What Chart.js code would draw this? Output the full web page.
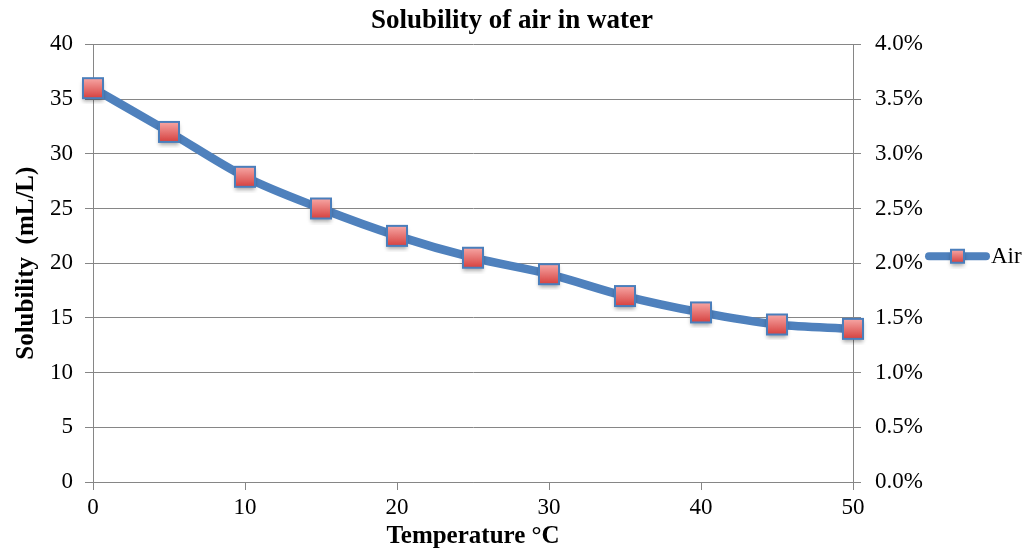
<!DOCTYPE html>
<html>
<head>
<meta charset="utf-8">
<script src="https://cdn.jsdelivr.net/npm/chart.js@4/dist/chart.umd.min.js"></script>
<style>
  html, body { margin: 0; padding: 0; background: #fff; }
  #wrap { width: 1024px; height: 549px; }
</style>
</head>
<body>
<div id="wrap"><canvas id="airChart" width="1024" height="549"></canvas></div>
<script>
// data
const temperatures = [0, 5, 10, 15, 20, 25, 30, 35, 40, 45, 50];
const airSolubility = [36, 32, 27.9, 25, 22.5, 20.5, 19, 17, 15.5, 14.4, 14];
const seriesName = 'Air';
const chartTitle = 'Solubility of air in water';
const xTitle = 'Temperature °C';
const yTitle = 'Solubility  (mL/L)';

const serif = '"Liberation Serif", "DejaVu Serif", serif';
const blue = '#4F81BD';

// square marker with the red gradient, blue edge and soft shadow
function makeMarker(size) {
    const pad = 6;
    const c = document.createElement('canvas');
    c.width = size + pad * 2;
    c.height = size + pad * 2;
    const g = c.getContext('2d');
    const x0 = pad, y0 = pad;
    const grad = g.createLinearGradient(0, y0, 0, y0 + size);
    grad.addColorStop(0, '#F7A7A5');
    grad.addColorStop(1, '#D6413F');
    g.shadowColor = 'rgba(0,0,0,0.35)';
    g.shadowBlur = 4;
    g.shadowOffsetY = 3;
    g.fillStyle = grad;
    g.fillRect(x0, y0, size, size);
    g.shadowColor = 'transparent';
    g.strokeStyle = '#4A7EBB';
    g.lineWidth = 2;
    g.strokeRect(x0, y0, size, size);
    return c;
}

const bigMarker = makeMarker(20);
const smallMarker = makeMarker(13);

// legend drawn by hand so the plot area stays put
const legendPlugin = {
    id: 'sideLegend',
    afterDraw(chart) {
        const ctx = chart.ctx;
        const area = chart.chartArea;
        const y = (area.top + area.bottom) / 2 - 7;
        const x1 = area.right + 76, x2 = area.right + 133;
        ctx.save();
        ctx.strokeStyle = blue;
        ctx.lineWidth = 8;
        ctx.lineCap = 'round';
        ctx.beginPath();
        ctx.moveTo(x1, y);
        ctx.lineTo(x2, y);
        ctx.stroke();
        ctx.drawImage(smallMarker, (x1 + x2) / 2 - smallMarker.width / 2, y - smallMarker.height / 2);
        ctx.fillStyle = '#000';
        ctx.font = '23px ' + serif;
        ctx.textBaseline = 'middle';
        ctx.fillText(seriesName, x2 + 5, y + 1);
        ctx.restore();
    }
};

const ctx = document.getElementById('airChart').getContext('2d');

new Chart(ctx, {
    type: 'line',
    data: {
        datasets: [{
            label: seriesName,
            data: temperatures.map((t, i) => ({ x: t, y: airSolubility[i] })),
            borderColor: blue,
            borderWidth: 8.5,
            borderCapStyle: 'round',
            cubicInterpolationMode: 'monotone',
            pointStyle: bigMarker,
            pointRadius: 11,
            clip: false,
            yAxisID: 'y'
        }]
    },
    options: {
        responsive: false,
        animation: false,
        layout: { padding: 0 },
        plugins: {
            legend: { display: false },
            tooltip: { enabled: false },
            title: {
                display: true,
                text: chartTitle,
                color: '#000',
                font: { family: serif, size: 27, weight: 'bold', lineHeight: 1.2 },
                padding: { top: 5, bottom: 7 }
            }
        },
        scales: {
            x: {
                type: 'linear',
                min: 0,
                max: 50,
                ticks: { stepSize: 10, color: '#000', font: { family: serif, size: 23 }, padding: 4 },
                grid: { drawOnChartArea: false, tickLength: 8, color: '#868686' },
                border: { color: '#868686' },
                title: {
                    display: true,
                    text: xTitle,
                    color: '#000',
                    font: { family: serif, size: 25, weight: 'bold', lineHeight: 1 },
                    padding: 0
                },
                afterFit(scale) { scale.height = 67; }
            },
            y: {
                position: 'left',
                min: 0,
                max: 40,
                ticks: { stepSize: 5, color: '#000', font: { family: serif, size: 23 }, padding: 12 },
                grid: { color: '#868686', tickLength: 8 },
                border: { color: '#868686' },
                title: {
                    display: true,
                    text: yTitle,
                    color: '#000',
                    font: { family: serif, size: 25, weight: 'bold', lineHeight: 1 },
                    padding: { top: 14, bottom: 0 }
                },
                afterFit(scale) { scale.width = 93; }
            },
            y2: {
                position: 'right',
                min: 0,
                max: 0.04,
                ticks: {
                    stepSize: 0.005,
                    color: '#000',
                    font: { family: serif, size: 23 },
                    padding: 14,
                    callback: v => (v * 100).toFixed(1) + '%'
                },
                grid: { drawOnChartArea: false, tickLength: 8, color: '#868686' },
                border: { color: '#868686' },
                afterFit(scale) { scale.width = 171; }
            }
        }
    },
    plugins: [legendPlugin]
});
</script>
</body>
</html>
